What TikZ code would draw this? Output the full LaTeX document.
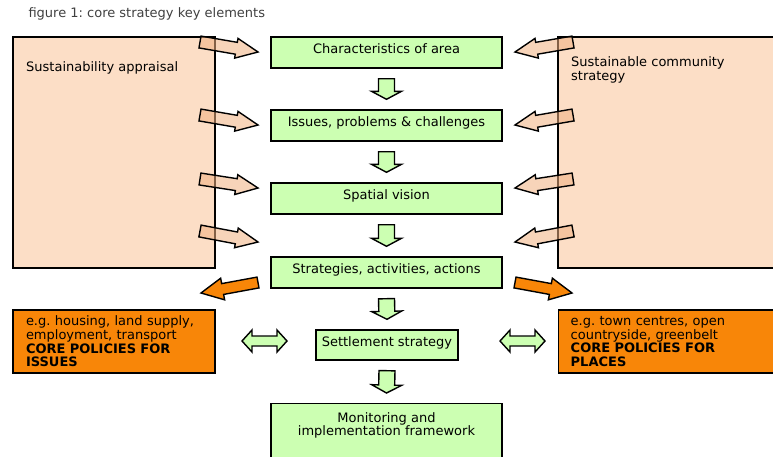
\documentclass[tikz,border=0pt]{standalone}
\usepackage{fontspec}
\setmainfont{DejaVu Sans}
\usetikzlibrary{calc}
\frenchspacing

\definecolor{peach}{RGB}{252,222,198}
\definecolor{peachdark}{RGB}{240,176,128}
\definecolor{lgreen}{RGB}{204,255,178}
\definecolor{corange}{RGB}{248,134,8}

% block arrow: from, to, shaft half width, head half width, head length
\newcommand{\blockarrow}[6][]{%
  \coordinate (hb) at ($(#3)!#6!(#2)$);
  \draw[#1] ($(#2)!#4!90:(#3)$) -- ($(hb)!#4!90:(#3)$) -- ($(hb)!#5!90:(#3)$) -- (#3)
    -- ($(hb)!#5!-90:(#3)$) -- ($(hb)!#4!-90:(#3)$) -- ($(#2)!#4!-90:(#3)$) -- cycle;}
% same with a head at both ends
\newcommand{\twowayarrow}[6][]{%
  \coordinate (hb) at ($(#3)!#6!(#2)$);
  \coordinate (ha) at ($(#2)!#6!(#3)$);
  \draw[#1] (#2) -- ($(ha)!#5!90:(#3)$) -- ($(ha)!#4!90:(#3)$) -- ($(hb)!#4!90:(#3)$)
    -- ($(hb)!#5!90:(#3)$) -- (#3) -- ($(hb)!#5!-90:(#3)$) -- ($(hb)!#4!-90:(#3)$)
    -- ($(ha)!#4!-90:(#3)$) -- ($(ha)!#5!-90:(#3)$) -- cycle;}

\begin{document}
\begin{tikzpicture}[x=1pt, y=-1pt,
    txt/.style={font=\fontsize{13}{13.6}\selectfont},
    gbox/.style={txt, draw, line width=1.4pt, fill=lgreen, minimum width=231pt, minimum height=31pt,
      text height=9.5pt, text depth=7.5pt, inner sep=0pt, align=center},
    pbox/.style={draw, line width=1.4pt, fill=peach, minimum height=231pt, inner sep=0pt},
    obox/.style={txt, draw, line width=1.4pt, fill=corange, minimum height=63pt, align=left},
    parrow/.style={draw=black, line width=1.4pt, fill=peachdark, fill opacity=0.55},
    oarrow/.style={draw=black, line width=1.4pt, fill=corange},
    garrow/.style={draw=black, line width=1.4pt, fill=lgreen}]
    \useasboundingbox (0,0) rectangle (773,456);
    \clip (0,0) rectangle (773,456);
    \node[txt, anchor=base west, text=black!75] (title) at (25,17) {figure 1: core strategy key elements};
    % side boxes
    \node[pbox, minimum width=202pt] (sa) at (114,152.5) {};
    \node[txt, anchor=base west, inner sep=0pt] (satxt) at (26,71) {Sustainability appraisal};
    \node[pbox, minimum width=232pt] (scs) at (674,152.5) {};
    \node[txt, anchor=north west, inner sep=0pt, align=left] (scstxt) at (571,56.5) {Sustainable community\\strategy};
    % main column
    \node[gbox] (char) at (386.5,52.5) {Characteristics of area};
    \node[gbox] (issues) at (386.5,125.5) {Issues, problems \& challenges};
    \node[gbox] (vision) at (386.5,198.5) {Spatial vision};
    \node[gbox] (strat) at (386.5,272.5) {Strategies, activities, actions};
    \node[gbox, minimum width=142pt, minimum height=30pt] (settle) at (387,345) {Settlement strategy};
    \node[gbox, anchor=north, minimum height=0pt, text height=32pt, text depth=36pt] (monitor) at (386.5,403)
      {Monitoring and\\implementation framework};
    % policy boxes
    \node[obox, text width=176pt, inner xsep=13pt] (issuespol) at (114,341.5)
      {e.g. housing, land supply,\\employment, transport\\\textbf{CORE POLICIES FOR}\\\textbf{ISSUES}};
    \node[obox, anchor=west, text width=200pt, inner xsep=12pt] (placespol) at (558,341.5)
      {e.g. town centres, open\\countryside, greenbelt\\\textbf{CORE POLICIES FOR}\\\textbf{PLACES}};
    % inputs from the side boxes
    \foreach \ys/\ye [count=\i] in {42/52, 115/125, 179/188, 231/242} {
      \coordinate (sa\i) at (200,\ys);
      \coordinate (l\i) at (258,\ye);
      \blockarrow[parrow]{sa\i}{l\i}{6pt}{10pt}{22pt}
      \coordinate (scs\i) at (573,\ys);
      \coordinate (r\i) at (515,\ye);
      \blockarrow[parrow]{scs\i}{r\i}{6pt}{10pt}{22pt}
    }
    % down the column
    \foreach \a/\b [count=\i] in {char/issues, issues/vision, vision/strat, strat/settle, settle/monitor} {
      \coordinate (dt\i) at ($(\a.south)+(0,10)$);
      \coordinate (dh\i) at ($(\b.north)+(0,-10)$);
      \blockarrow[garrow]{dt\i}{dh\i}{8pt}{15pt}{8pt}
    }
    % out to the policies
    \coordinate (ol) at (258,282.5);
    \coordinate (oltip) at (201,293);
    \blockarrow[oarrow]{ol}{oltip}{5.5pt}{11pt}{22pt}
    \coordinate (or) at (515,282.5);
    \coordinate (ortip) at (572,293);
    \blockarrow[oarrow]{or}{ortip}{5.5pt}{11pt}{22pt}
    % links with settlement strategy
    \coordinate (wl) at (242,341);
    \coordinate (wr) at (287,341);
    \twowayarrow[garrow]{wl}{wr}{5pt}{11pt}{10pt}
    \coordinate (el) at (500,341);
    \coordinate (er) at (545,341);
    \twowayarrow[garrow]{el}{er}{5pt}{11pt}{10pt}
\end{tikzpicture}
\end{document}
